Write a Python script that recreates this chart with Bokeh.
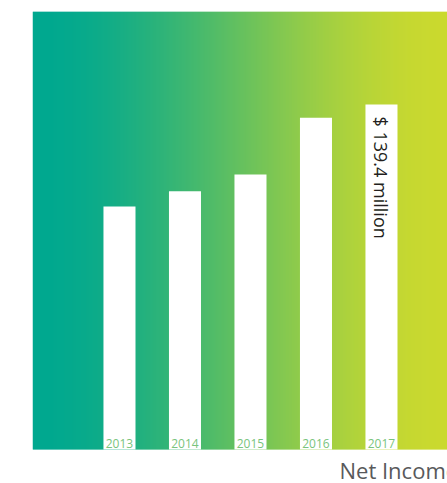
import numpy as np
from bokeh.plotting import figure
from bokeh.models import Range1d, ColumnDataSource
from bokeh.core.properties import value
from bokeh.embed import file_html
from bokeh.resources import INLINE

# ---- data ----
years = [2013, 2014, 2015, 2016, 2017]
year_labels = ["2013", "2014", "2015", "2016", "2017"]
net_income = [98.2, 104.3, 111.1, 134.0, 139.4]   # $ million
highlight_label = "$ 139.4 million"
title_text = "Net Income"

# ---- gradient end colours (style) ----
c_left = (0, 168, 143)
c_right = (202, 217, 47)

W, H = 447, 483
left_b, top_b = 32, 11
plot_bottom_px = 449          # pixel row of value 0
x0, x1 = 2011.672, 2018.008
y_top = 176.98
px_per_y = (plot_bottom_px - top_b) / y_top
y_bot = -(H - plot_bottom_px) / px_per_y
px_per_x = (W - left_b) / (x1 - x0)

p = figure(width=W, height=H, output_backend="svg", toolbar_location=None,
           x_range=Range1d(x0, x1), y_range=Range1d(y_bot, y_top),
           min_border_left=left_b, min_border_right=0,
           min_border_top=top_b, min_border_bottom=0)
p.axis.visible = False
p.grid.visible = False
p.outline_line_color = None
p.background_fill_color = "white"
p.border_fill_color = "white"

# gradient background (smooth blend)
n = 415
edges = np.linspace(x0, x1, n + 1)
step = edges[1] - edges[0]
t = (edges[:-1] + step / 2 - x0) / (x1 - x0)
f = 3 * t ** 2 - 2 * t ** 3
cols = []
for ff in f:
    rgb = [int(round(a + (b - a) * ff)) for a, b in zip(c_left, c_right)]
    cols.append("#%02x%02x%02x" % tuple(rgb))
p.quad(left=edges[:-1], right=edges[:-1] + step * 1.5, bottom=0, top=y_top,
       fill_color=cols, line_color=None)

src = ColumnDataSource(dict(x=years, top=net_income, lab=year_labels))
p.vbar(x="x", top="top", width=0.489, source=src, fill_color="white", line_color=None)

p.text(x="x", y=0, text="lab", source=src, text_font=value("Open Sans"),
       text_font_size="12px", text_color="#79c47c", text_align="center",
       text_baseline="alphabetic", y_offset=-6)

p.text(x=[years[-1]], y=[net_income[-1]], text=[highlight_label],
       angle=-np.pi / 2, text_font=value("Open Sans"), text_font_size="18px",
       text_color="#231f20", text_align="left", text_baseline="middle",
       y_offset=12)

p.text(x=[x0 + (339 - left_b) / px_per_x], y=[-(469 - plot_bottom_px) / px_per_y],
       text=[title_text], text_font=value("Open Sans"), text_font_size="22px",
       text_color="#58595b", text_align="left", text_baseline="alphabetic")

open("out.html", "w").write(file_html(p, INLINE))
